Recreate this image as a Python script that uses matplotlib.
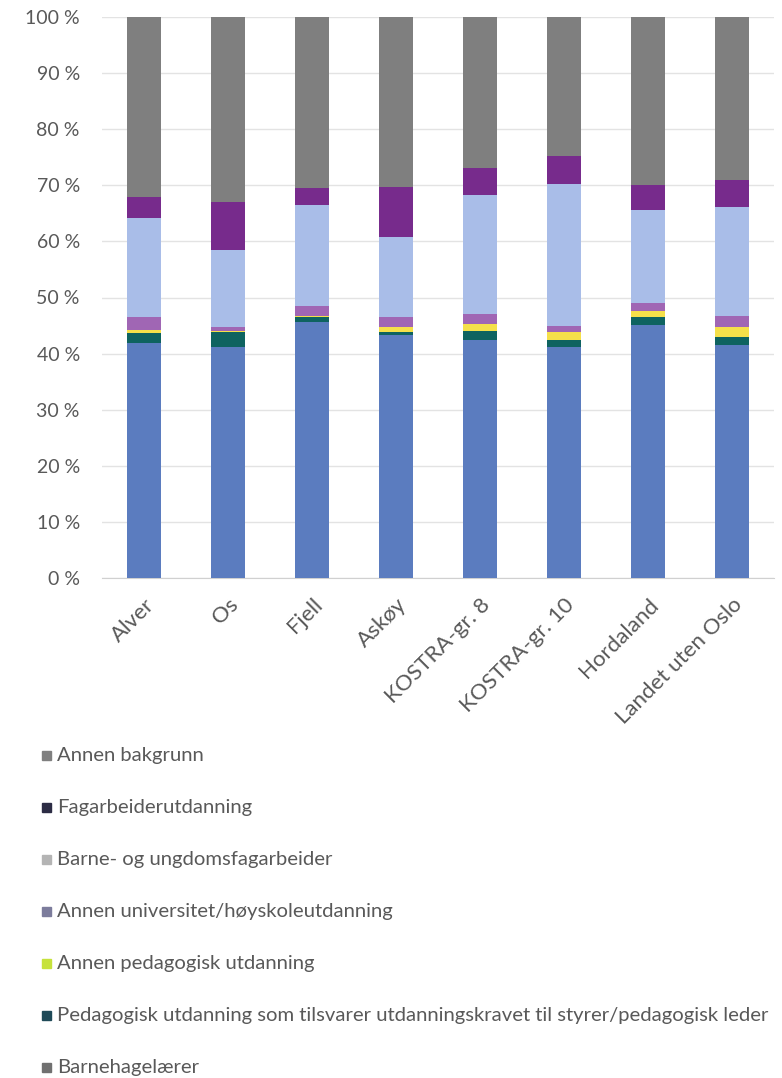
import matplotlib
matplotlib.use("Agg")
import matplotlib.pyplot as plt
from matplotlib.patches import Rectangle
import numpy as np

categories = ["Alver", "Os", "Fjell", "Askøy", "KOSTRA-gr. 8", "KOSTRA-gr. 10", "Hordaland", "Landet uten Oslo"]

# values in percent, bottom to top
barnehagelaerer = [41.9, 41.1, 45.6, 43.3, 42.4, 41.1, 45.1, 41.5]
ped_tilsvarer   = [1.8, 2.8, 0.9, 0.6, 1.7, 1.3, 1.5, 1.5]
annen_ped       = [0.5, 0.2, 0.2, 0.8, 1.2, 1.5, 1.0, 1.8]
annen_univ      = [2.4, 0.6, 1.8, 1.8, 1.7, 1.0, 1.5, 1.9]
barne_ungdom    = [17.5, 13.8, 18.0, 14.2, 21.3, 25.3, 16.5, 19.5]
fagarbeider     = [3.9, 8.6, 3.0, 9.0, 4.7, 5.0, 4.5, 4.7]
annen_bakgrunn  = [32.0, 32.9, 30.5, 30.3, 27.0, 24.8, 29.9, 29.1]

series_names = ["Barnehagelærer",
                "Pedagogisk utdanning som tilsvarer utdanningskravet til styrer/pedagogisk leder",
                "Annen pedagogisk utdanning",
                "Annen universitet/høyskoleutdanning",
                "Barne- og ungdomsfagarbeider",
                "Fagarbeiderutdanning",
                "Annen bakgrunn"]
series_vals = [barnehagelaerer, ped_tilsvarer, annen_ped, annen_univ, barne_ungdom, fagarbeider, annen_bakgrunn]
bar_colors = ["#5b7cbf", "#0e6360", "#f5e04a", "#a066b4", "#a9bde8", "#772b8c", "#7f7f7f"]
legend_colors = ["#707070", "#1f4a58", "#c6e23c", "#7c7c9c", "#b4b4b4", "#2c2c44", "#7f7f7f"]

yticks = [0, 10, 20, 30, 40, 50, 60, 70, 80, 90, 100]

fam = ["Lato", "DejaVu Sans"]
txt_color = "#595959"

fig = plt.figure(figsize=(7.82, 10.78), dpi=100)
ax = fig.add_axes([102/782, 1-578/1078, 672/782, 561/1078])

x = np.arange(len(categories))
bottom = np.zeros(len(categories))
for vals, col in zip(series_vals, bar_colors):
    v = np.array(vals)
    ax.bar(x, v, bottom=bottom, width=0.4, color=col, zorder=3)
    bottom += v

ax.set_xlim(-0.5, len(categories) - 0.5)
ax.set_ylim(0, 100)
ax.set_yticks(yticks)
ax.set_yticklabels([f"{t} %" for t in yticks], fontsize=14, color=txt_color, family=fam)
ax.set_xticks(x)
ax.set_xticklabels(categories, rotation=45, ha="right", rotation_mode="anchor",
                   fontsize=16, color=txt_color, family=fam)
ax.tick_params(axis="both", length=0)
ax.tick_params(axis="y", pad=16)
ax.tick_params(axis="x", pad=12)
ax.grid(axis="y", color="#e3e3e3", linewidth=1, zorder=0)
for s in ["top", "right", "left"]:
    ax.spines[s].set_visible(False)
ax.spines["bottom"].set_color("#d0d0d0")

# legend (top to bottom: reverse of stacking)
ys = [755, 807, 859, 911, 963, 1015, 1067]
for i, (name, lc) in enumerate(zip(series_names[::-1], legend_colors[::-1])):
    yc = 1 - ys[i] / 1078
    fig.patches.append(Rectangle((42/782, yc - 4.5/1078), 9/782, 9/1078,
                                 transform=fig.transFigure, color=lc, figure=fig))
    fig.text(57/782, yc, name, va="center", ha="left", fontsize=14.6,
             color=txt_color, family=fam)

fig.savefig("out.png", dpi=100)
